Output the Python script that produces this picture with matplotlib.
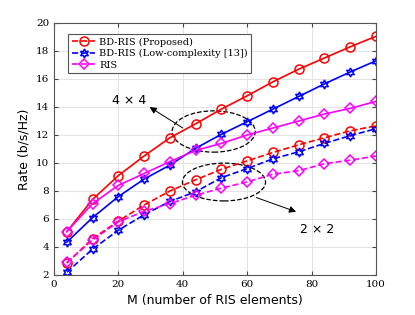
import matplotlib
matplotlib.use('Agg')
import matplotlib.pyplot as plt
from matplotlib.patches import Ellipse
import numpy as np

M = [4, 12, 20, 28, 36, 44, 52, 60, 68, 76, 84, 92, 100]

bd_prop_4 = [5.1, 7.4, 9.1, 10.5, 11.8, 12.8, 13.85, 14.8, 15.8, 16.7, 17.5, 18.3, 19.05]
bd_low_4 = [4.35, 6.1, 7.6, 8.85, 9.85, 11.05, 12.05, 12.95, 13.85, 14.75, 15.65, 16.5, 17.3]
ris_4 = [5.1, 7.1, 8.4, 9.25, 10.1, 10.9, 11.4, 12.0, 12.5, 13.0, 13.5, 13.9, 14.4]

bd_prop_2 = [2.85, 4.6, 5.85, 7.0, 8.0, 8.8, 9.55, 10.15, 10.75, 11.3, 11.8, 12.3, 12.65]
bd_low_2 = [2.2, 3.85, 5.2, 6.3, 7.25, 7.95, 8.95, 9.6, 10.3, 10.8, 11.4, 11.95, 12.45]
ris_2 = [2.9, 4.5, 5.8, 6.55, 7.1, 7.7, 8.2, 8.65, 9.2, 9.45, 9.95, 10.2, 10.5]

fig = plt.figure(figsize=(4.15, 3.15), dpi=100)
ax = fig.add_axes([0.130, 0.127, 0.776, 0.800])

mk = dict(markerfacecolor='none', markersize=6.5, markeredgewidth=1.1, linewidth=1.2)
hexa = (6, 1, 0)

ax.plot(M, bd_prop_4, '-', color='red', marker='o', **mk)
ax.plot(M, bd_low_4, '-', color='blue', marker=hexa, **mk)
ax.plot(M, ris_4, '-', color='magenta', marker='D', **dict(mk, markersize=5.5))
ax.plot(M, bd_prop_2, '--', color='red', marker='o', **mk)
ax.plot(M, bd_low_2, '--', color='blue', marker=hexa, **mk)
ax.plot(M, ris_2, '--', color='magenta', marker='D', **dict(mk, markersize=5.5))

# legend entries use dashed style with markers
h1, = ax.plot([], [], '--', color='red', marker='o', **mk)
h2, = ax.plot([], [], '--', color='blue', marker=hexa, **mk)
h3, = ax.plot([], [], '--', color='magenta', marker='D', **dict(mk, markersize=5.5))
leg = ax.legend([h1, h2, h3],
                ['BD-RIS (Proposed)', 'BD-RIS (Low-complexity [13])', 'RIS'],
                loc='upper left', bbox_to_anchor=(0.03, 0.975),
                prop={'family': 'DejaVu Serif', 'size': 7},
                fancybox=False, edgecolor='#555555', framealpha=1,
                handlelength=2.4, borderpad=0.35, labelspacing=0.25,
                handletextpad=0.4)
leg.get_frame().set_linewidth(0.8)

ax.add_patch(Ellipse((49.6, 12.25), 25.8, 2.95, fill=False, linestyle='--',
                     edgecolor='black', linewidth=0.9))
ax.add_patch(Ellipse((52.8, 8.64), 25.8, 2.7, fill=False, linestyle='--',
                     edgecolor='black', linewidth=0.9))

ax.annotate('', xy=(29.0, 14.1), xytext=(40.7, 12.4),
            arrowprops=dict(arrowstyle='-|>', color='black', lw=0.7, mutation_scale=10))
ax.annotate('', xy=(76.0, 6.45), xytext=(62.0, 7.6),
            arrowprops=dict(arrowstyle='-|>', color='black', lw=0.7, mutation_scale=10))
ax.text(18, 14.45, '4 × 4', fontsize=9, va='center', ha='left')
ax.text(76.3, 5.25, '2 × 2', fontsize=9, va='center', ha='left')

ax.set_xlim(0, 100)
ax.set_ylim(2, 20)
ax.set_xticks(np.arange(0, 101, 20))
ax.set_yticks(np.arange(2, 21, 2))
ax.grid(True, color='#e3e3e3', linewidth=0.7)
ax.set_axisbelow(True)
ax.tick_params(direction='in', top=True, right=True, length=3, labelsize=7.5,
               color='#444444')
for lab in ax.get_xticklabels() + ax.get_yticklabels():
    lab.set_family('DejaVu Serif')
for s in ax.spines.values():
    s.set_color('#555555')
    s.set_linewidth(0.8)

ax.set_xlabel('M (number of RIS elements)', fontsize=9, labelpad=4)
ax.set_ylabel('Rate (b/s/Hz)', fontsize=9, labelpad=4)

fig.savefig('out.png', dpi=100)
